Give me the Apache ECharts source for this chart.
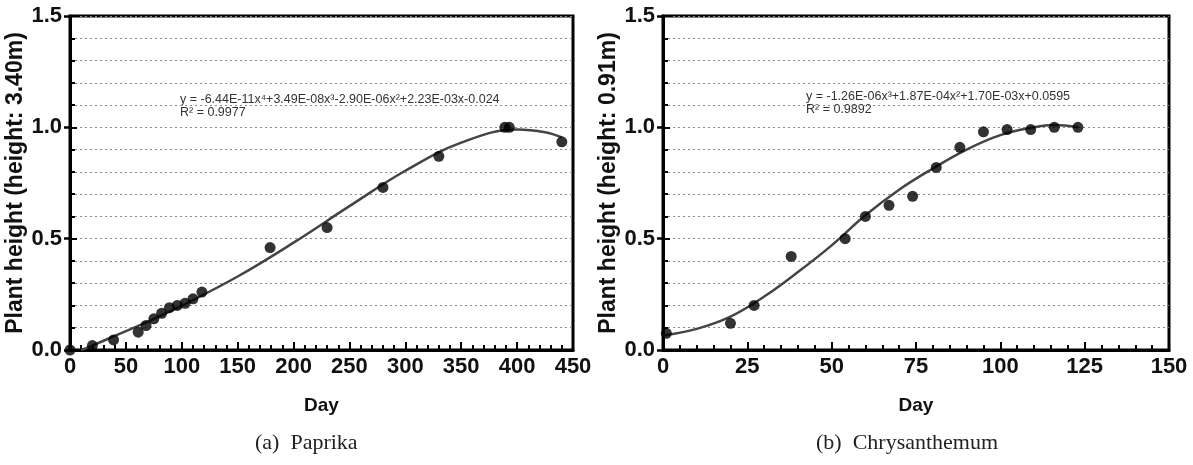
<!DOCTYPE html>
<html>
<head>
<meta charset="utf-8">
<script src="https://cdn.jsdelivr.net/npm/echarts@6/dist/echarts.min.js"></script>
<style>
  html, body { margin: 0; padding: 0; background: #fff; }
  #chart { width: 1193px; height: 465px; }
</style>
</head>
<body>
<div id="chart"></div>
<script>
// (a) Paprika - measured points
const paprikaDays = [0, 20, 39, 61, 68, 75, 82, 89, 96, 103, 110, 118, 179, 230, 280, 330, 389, 393, 440]
const paprikaHeight = [0.0, 0.02, 0.045, 0.08, 0.11, 0.14, 0.165, 0.19, 0.2, 0.21, 0.23, 0.26, 0.46, 0.55, 0.73, 0.87, 1.0, 1.0, 0.935]
// trend curve
const paprikaFitDays = [10, 20, 40, 60, 80, 100, 150, 200, 250, 300, 350, 400, 425, 440]
const paprikaFit = [0.0, 0.02, 0.063, 0.106, 0.151, 0.199, 0.33, 0.482, 0.646, 0.805, 0.931, 0.99, 0.978, 0.955]

// (b) Chrysanthemum - measured points
const chrysDays = [1, 20, 27, 38, 54, 60, 67, 74, 81, 88, 95, 102, 109, 116, 123]
const chrysHeight = [0.075, 0.12, 0.2, 0.42, 0.5, 0.6, 0.65, 0.69, 0.82, 0.91, 0.98, 0.99, 0.99, 1.0, 1.0]
const chrysFitDays = [0, 10, 20, 30, 40, 50, 60, 70, 80, 90, 100, 110, 116, 123]
const chrysFit = [0.065, 0.095, 0.15, 0.24, 0.35, 0.47, 0.605, 0.72, 0.815, 0.9, 0.965, 1.0, 1.01, 1.0]

const yTicks = [0, 0.5, 1.0, 1.5]

const boldFont = 'Arial, "Liberation Sans", sans-serif'
const pair = (xs, ys) => xs.map((x, i) => [x, ys[i]])

const xAxisFor = (gridIndex, max, interval) => ({
  gridIndex,
  type: 'value',
  min: 0,
  max,
  interval,
  name: 'Day',
  nameLocation: 'middle',
  nameGap: 46,
  nameTextStyle: { color: '#111', fontWeight: 'bold', fontSize: 19, fontFamily: boldFont },
  axisLine: { show: true, lineStyle: { color: '#000', width: 3 } },
  axisTick: { show: true, inside: true, length: 8, lineStyle: { color: '#000', width: 2 } },
  minorTick: { show: true, splitNumber: 5, length: 5, lineStyle: { color: '#000', width: 2 } },
  axisLabel: { color: '#111', fontWeight: 'bold', fontSize: 22, fontFamily: boldFont, margin: 6 },
  splitLine: { show: false }
})

const yAxisFor = (gridIndex, name) => ({
  gridIndex,
  type: 'value',
  position: 'left',
  min: yTicks[0],
  max: yTicks[yTicks.length - 1],
  interval: 0.5,
  name,
  nameLocation: 'middle',
  nameGap: 40,
  nameTextStyle: { color: '#111', fontWeight: 'bold', fontSize: 23, fontFamily: boldFont },
  axisLine: { show: true, lineStyle: { color: '#000', width: 3 } },
  axisTick: { show: true, inside: true, length: 7, lineStyle: { color: '#000', width: 2 } },
  minorTick: { show: true, splitNumber: 5, length: 5, lineStyle: { color: '#000', width: 2 } },
  axisLabel: {
    color: '#111', fontWeight: 'bold', fontSize: 22, fontFamily: boldFont, margin: 8,
    formatter: v => v.toFixed(1)
  },
  splitLine: { show: true, lineStyle: { color: '#888', type: [2, 3], width: 1 } },
  minorSplitLine: { show: true, lineStyle: { color: '#888', type: [2, 3], width: 1 } }
})

// second left axis only for the outward major ticks
const yTickAxisFor = gridIndex => ({
  gridIndex,
  type: 'value',
  position: 'left',
  offset: 0,
  min: yTicks[0],
  max: yTicks[yTicks.length - 1],
  interval: 0.5,
  axisLine: { show: true, lineStyle: { color: 'rgba(0,0,0,0)', width: 1 } },
  axisTick: { show: true, length: 6, lineStyle: { color: '#000', width: 2.5 } },
  axisLabel: { show: false },
  splitLine: { show: false }
})

const scatter = (idx, data) => ({
  type: 'scatter',
  xAxisIndex: idx,
  yAxisIndex: idx,
  data,
  symbol: 'circle',
  symbolSize: 11,
  clip: false,
  itemStyle: { color: '#000' },
  z: 4
})

const curve = (idx, data) => ({
  type: 'line',
  xAxisIndex: idx,
  yAxisIndex: idx,
  data,
  smooth: 0.4,
  showSymbol: false,
  lineStyle: { color: '#444', width: 2.5 },
  z: 3
})

const eqStyle = { fill: '#333', fontSize: 12.5, fontFamily: 'Arial, "Liberation Sans", sans-serif' }
const captionStyle = { fill: '#222', fontSize: 22, fontFamily: '"Liberation Serif", "Times New Roman", serif' }

const chart = echarts.init(document.getElementById('chart'))

chart.setOption({
  backgroundColor: '#fff',
  animation: false,
  grid: [
    { left: 70, top: 16, width: 503, height: 334, show: true, borderColor: '#000', borderWidth: 3 },
    { left: 663, top: 16, width: 506, height: 334, show: true, borderColor: '#000', borderWidth: 3 }
  ],
  xAxis: [xAxisFor(0, 450, 50), xAxisFor(1, 150, 25)],
  yAxis: [
    yAxisFor(0, 'Plant height (height: 3.40m)'),
    yAxisFor(1, 'Plant height (height: 0.91m)'),
    yTickAxisFor(0),
    yTickAxisFor(1)
  ],
  series: [
    curve(0, pair(paprikaFitDays, paprikaFit)),
    scatter(0, pair(paprikaDays, paprikaHeight)),
    curve(1, pair(chrysFitDays, chrysFit)),
    scatter(1, pair(chrysDays, chrysHeight))
  ],
  graphic: [
    { type: 'text', left: 180, top: 93, style: Object.assign({ text: 'y = -6.44E-11x⁴+3.49E-08x³-2.90E-06x²+2.23E-03x-0.024' }, eqStyle) },
    { type: 'text', left: 180, top: 106, style: Object.assign({ text: 'R² = 0.9977' }, eqStyle) },
    { type: 'text', left: 806, top: 90, style: Object.assign({ text: 'y = -1.26E-06x³+1.87E-04x²+1.70E-03x+0.0595' }, eqStyle) },
    { type: 'text', left: 806, top: 103, style: Object.assign({ text: 'R² = 0.9892' }, eqStyle) },
    { type: 'text', left: 255, top: 432, style: Object.assign({ text: '(a)  Paprika' }, captionStyle) },
    { type: 'text', left: 816, top: 432, style: Object.assign({ text: '(b)  Chrysanthemum' }, captionStyle) }
  ]
})
</script>
</body>
</html>
